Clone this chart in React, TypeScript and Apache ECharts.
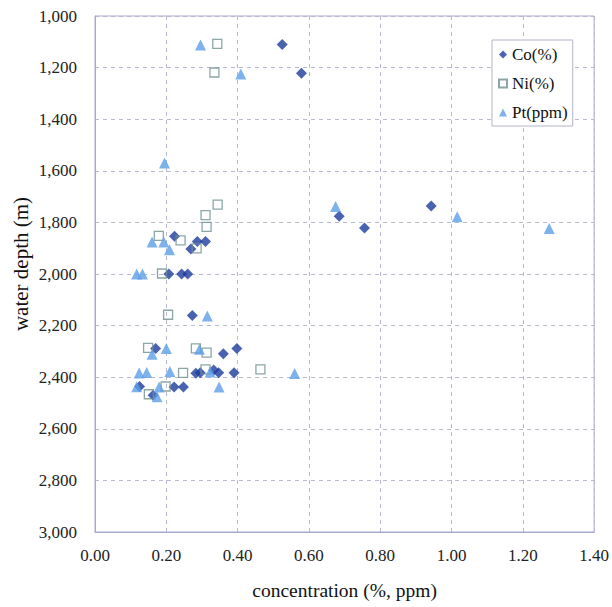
import React, { useEffect, useRef } from "react";
import * as echarts from "echarts";

const xTicks = [0, 0.2, 0.4, 0.6, 0.8, 1.0, 1.2, 1.4];
const yTicks = [1000, 1200, 1400, 1600, 1800, 2000, 2200, 2400, 2600, 2800, 3000];

const seriesNames = ["Co(%)", "Ni(%)", "Pt(ppm)"];
const xTitle = "concentration (%, ppm)";
const yTitle = "water depth (m)";

const coData: [number, number][] = [
  [0.525, 1110], [0.579, 1222], [0.685, 1776], [0.756, 1822], [0.943, 1736],
  [0.223, 1854], [0.287, 1874], [0.31, 1874], [0.269, 1903],
  [0.207, 2000], [0.243, 2000], [0.26, 2000],
  [0.273, 2161],
  [0.17, 2289], [0.36, 2309], [0.398, 2289],
  [0.283, 2385], [0.295, 2383], [0.333, 2372], [0.347, 2383], [0.39, 2383],
  [0.125, 2436], [0.222, 2438], [0.248, 2438],
  [0.163, 2470],
];

const niData: [number, number][] = [
  [0.343, 1108], [0.335, 1219], [0.344, 1731], [0.31, 1772], [0.313, 1817],
  [0.179, 1852], [0.24, 1870], [0.285, 1901],
  [0.188, 1998],
  [0.205, 2158],
  [0.149, 2286], [0.283, 2288], [0.313, 2305],
  [0.247, 2383], [0.31, 2370], [0.464, 2370],
  [0.198, 2436],
  [0.151, 2466],
];

const ptData: [number, number][] = [
  [0.296, 1112], [0.409, 1225], [0.195, 1570], [0.675, 1738], [1.016, 1778], [1.274, 1824],
  [0.16, 1876], [0.193, 1876], [0.209, 1906],
  [0.117, 2000], [0.133, 2000],
  [0.315, 2163],
  [0.2, 2289], [0.16, 2311], [0.293, 2292],
  [0.124, 2384], [0.145, 2382], [0.21, 2378], [0.323, 2380], [0.56, 2386],
  [0.117, 2437], [0.18, 2438], [0.348, 2438],
  [0.174, 2476],
];

const FONT = "'Liberation Serif', 'DejaVu Serif', 'Times New Roman', serif";

export default function App() {
  const ref = useRef<HTMLDivElement>(null);
  useEffect(() => {
    if (!ref.current) return;
    const chart = echarts.init(ref.current, undefined, { renderer: "svg" });
    const gridColor = "#b9b9d2";
    chart.setOption({
      animation: false,
      backgroundColor: "#ffffff",
      textStyle: { fontFamily: FONT },
      grid: {
        left: 95,
        right: 15,
        top: 16,
        bottom: 75,
        show: true,
        borderColor: "#a9a9cc",
        borderWidth: 1,
      },
      graphic: [
        {
          type: "text",
          x: 21,
          y: 264,
          rotation: Math.PI / 2,
          style: {
            text: yTitle,
            fontFamily: FONT,
            fontSize: 21,
            fill: "#111111",
            textAlign: "center",
            textVerticalAlign: "middle",
          },
        },
      ],
      legend: {
        data: seriesNames,
        orient: "vertical",
        left: 492,
        top: 40,
        padding: [6, 5, 5, 6],
        itemGap: 12,
        itemWidth: 8,
        itemHeight: 8,
        backgroundColor: "#ffffff",
        borderColor: "#b3b3c8",
        borderWidth: 1,
        borderRadius: 0,
        textStyle: { fontFamily: FONT, fontSize: 17, color: "#111111" },
      },
      xAxis: {
        type: "value",
        min: 0,
        max: 1.4,
        interval: 0.2,
        name: xTitle,
        nameLocation: "middle",
        nameGap: 48,
        nameTextStyle: { fontFamily: FONT, fontSize: 19.5, color: "#111111" },
        axisLine: { show: true, lineStyle: { color: "#a9a9cc" } },
        axisTick: { show: false },
        axisLabel: {
          fontFamily: FONT,
          fontSize: 17,
          color: "#222222",
          margin: 15,
          formatter: (v: number) => v.toFixed(2),
        },
        splitLine: { show: true, lineStyle: { color: gridColor, type: [4, 4], width: 1 } },
      },
      yAxis: {
        type: "value",
        inverse: true,
        min: 1000,
        max: 3000,
        interval: 200,
        axisLine: { show: true, lineStyle: { color: "#a9a9cc" } },
        axisTick: { show: false },
        axisLabel: {
          fontFamily: FONT,
          fontSize: 17,
          color: "#222222",
          margin: 18,
          formatter: (v: number) => v.toLocaleString("en-US"),
        },
        splitLine: { show: true, lineStyle: { color: gridColor, type: [4, 4], width: 1 } },
      },
      series: [
        {
          name: seriesNames[0],
          type: "scatter",
          symbol: "diamond",
          symbolSize: 11,
          itemStyle: { color: "#1d3c9e" },
          data: coData,
        },
        {
          name: seriesNames[1],
          type: "scatter",
          symbol: "rect",
          symbolSize: 9,
          itemStyle: { color: "rgba(255,255,255,0)", borderColor: "#6f9090", borderWidth: 1.3 },
          data: niData,
        },
        {
          name: seriesNames[2],
          type: "scatter",
          symbol: "triangle",
          symbolSize: 11,
          itemStyle: { color: "#5c9fe8" },
          data: ptData,
        },
      ],
    });
    return () => chart.dispose();
  }, []);
  return (
    <div
      ref={ref}
      style={{ position: "fixed", left: 0, top: 0, width: 612, height: 607 }}
    />
  );
}
